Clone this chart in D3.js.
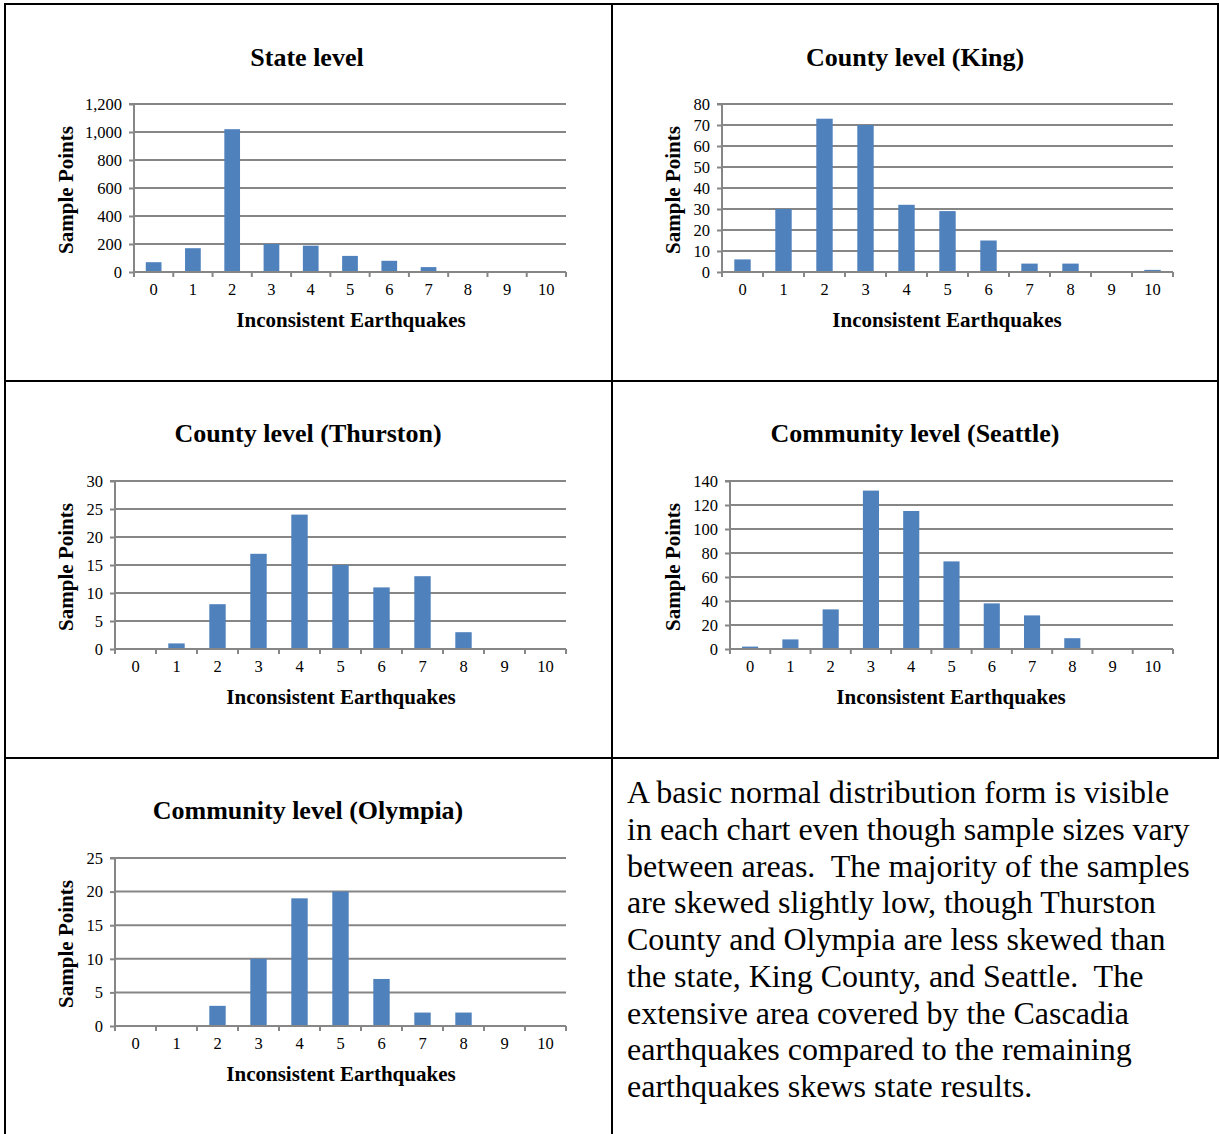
<!DOCTYPE html>
<html>
<head>
<meta charset="utf-8">
<script src="https://cdn.jsdelivr.net/npm/d3@7"></script>
<style>
  html, body { margin: 0; padding: 0; background: #fff; }
  svg { display: block; }
  text { font-family: "Liberation Serif", "Times New Roman", serif; fill: #000; }
</style>
</head>
<body>
<svg id="page" width="1219" height="1134"></svg>
<script>
// Category axis shared by every histogram: number of inconsistent earthquakes
const categories = ["0", "1", "2", "3", "4", "5", "6", "7", "8", "9", "10"];

// Sample point counts per area
const stateValues    = [70, 170, 1020, 200, 188, 115, 80, 35, 0, 0, 0];
const kingValues     = [6, 30, 73, 70, 32, 29, 15, 4, 4, 0, 1];
const thurstonValues = [0, 1, 8, 17, 24, 15, 11, 13, 3, 0, 0];
const seattleValues  = [2, 8, 33, 132, 115, 73, 38, 28, 9, 0, 0];
const olympiaValues  = [0, 0, 3, 10, 19, 20, 7, 2, 2, 0, 0];

// Value-axis tick labels for each chart
const stateTicks    = [0, 200, 400, 600, 800, 1000, 1200];
const kingTicks     = [0, 10, 20, 30, 40, 50, 60, 70, 80];
const thurstonTicks = [0, 5, 10, 15, 20, 25, 30];
const seattleTicks  = [0, 20, 40, 60, 80, 100, 120, 140];
const olympiaTicks  = [0, 5, 10, 15, 20, 25];

const chartTitles = ["State level", "County level (King)", "County level (Thurston)",
                     "Community level (Seattle)", "Community level (Olympia)"];
const xAxisTitle = "Inconsistent Earthquakes";
const yAxisTitle = "Sample Points";

const noteLines = [
  "A basic normal distribution form is visible",
  "in each chart even though sample sizes vary",
  "between areas.\u00a0 The majority of the samples",
  "are skewed slightly low, though Thurston",
  "County and Olympia are less skewed than",
  "the state, King County, and Seattle.\u00a0 The",
  "extensive area covered by the Cascadia",
  "earthquakes compared to the remaining",
  "earthquakes skews state results."
];

const svg = d3.select("#page");
const BAR = "#4F81BD";
const GRID = "#868686";
const SERIF = "'Liberation Serif', 'Times New Roman', serif";

// Table frame
const frame = svg.append("g").attr("stroke", "#000").attr("stroke-width", 2);
frame.append("line").attr("x1", 5).attr("x2", 5).attr("y1", 4).attr("y2", 1134);
frame.append("line").attr("x1", 1218).attr("x2", 1218).attr("y1", 4).attr("y2", 758);
frame.append("line").attr("x1", 4).attr("x2", 1219).attr("y1", 4).attr("y2", 4);
frame.append("line").attr("x1", 612).attr("x2", 612).attr("y1", 4).attr("y2", 1134);
frame.append("line").attr("x1", 4).attr("x2", 1219).attr("y1", 381).attr("y2", 381);
frame.append("line").attr("x1", 4).attr("x2", 1219).attr("y1", 758).attr("y2", 758);

// Layout of each chart cell
const panels = [
  { title: chartTitles[0], values: stateValues,    ticks: stateTicks,    fmt: d3.format(","),
    x0: 134, x1: 566, y0: 104, y1: 272, titleX: 307, titleY: 66,  yLabX: 73,  xLabX: 351 },
  { title: chartTitles[1], values: kingValues,     ticks: kingTicks,     fmt: d3.format("d"),
    x0: 722, x1: 1173, y0: 104, y1: 272, titleX: 915, titleY: 66,  yLabX: 680, xLabX: 947 },
  { title: chartTitles[2], values: thurstonValues, ticks: thurstonTicks, fmt: d3.format("d"),
    x0: 115, x1: 566, y0: 481, y1: 649, titleX: 308, titleY: 442, yLabX: 73,  xLabX: 341 },
  { title: chartTitles[3], values: seattleValues,  ticks: seattleTicks,  fmt: d3.format("d"),
    x0: 730, x1: 1173, y0: 481, y1: 649, titleX: 915, titleY: 442, yLabX: 680, xLabX: 951 },
  { title: chartTitles[4], values: olympiaValues,  ticks: olympiaTicks,  fmt: d3.format("d"),
    x0: 115, x1: 566, y0: 858, y1: 1026, titleX: 308, titleY: 819, yLabX: 73,  xLabX: 341 }
];

panels.forEach(p => {
  const g = svg.append("g");
  const x = d3.scaleBand().domain(categories).range([p.x0, p.x1]).paddingInner(0).paddingOuter(0);
  const y = d3.scaleLinear().domain([0, d3.max(p.ticks)]).range([p.y1, p.y0]);
  const barW = x.bandwidth() / 2.5;

  // Horizontal gridlines
  g.append("g").selectAll("line").data(p.ticks.filter(t => t > 0)).join("line")
    .attr("x1", p.x0).attr("x2", p.x1)
    .attr("y1", d => y(d)).attr("y2", d => y(d))
    .attr("stroke", GRID).attr("stroke-width", 2);

  // Bars
  g.append("g").selectAll("rect").data(p.values.map((v, i) => ({ c: categories[i], v }))).join("rect")
    .attr("x", d => x(d.c) + (x.bandwidth() - barW) / 2)
    .attr("width", barW)
    .attr("y", d => y(d.v))
    .attr("height", d => p.y1 - y(d.v))
    .attr("fill", BAR);

  // Value axis
  const yAxis = d3.axisLeft(y).tickValues(p.ticks).tickFormat(p.fmt).tickSize(5).tickPadding(7);
  const ya = g.append("g").attr("transform", `translate(${p.x0},0)`).call(yAxis)
    .style("font-family", SERIF);
  ya.select(".domain").attr("stroke", GRID).attr("stroke-width", 2).attr("d", `M-5,${p.y0}H0V${p.y1}`);
  ya.selectAll(".tick line").attr("stroke", GRID).attr("stroke-width", 2);
  ya.selectAll(".tick text").attr("font-size", 16.5).style("font-family", SERIF).attr("fill", "#000");

  // Category axis with tick marks between categories
  const boundaries = categories.map(c => x(c)).concat([p.x1]);
  const xa = g.append("g");
  xa.append("line").attr("x1", p.x0).attr("x2", p.x1).attr("y1", p.y1).attr("y2", p.y1)
    .attr("stroke", GRID).attr("stroke-width", 2);
  xa.selectAll("line.tk").data(boundaries).join("line").attr("class", "tk")
    .attr("x1", d => d).attr("x2", d => d).attr("y1", p.y1).attr("y2", p.y1 + 5)
    .attr("stroke", GRID).attr("stroke-width", 2);
  xa.selectAll("text").data(categories).join("text")
    .attr("x", d => x(d) + x.bandwidth() / 2).attr("y", p.y1 + 23)
    .attr("text-anchor", "middle").attr("font-size", 16.5).text(d => d);

  // Titles
  g.append("text").attr("x", p.titleX).attr("y", p.titleY).attr("text-anchor", "middle")
    .attr("font-size", 26).attr("font-weight", "bold").text(p.title);
  g.append("text").attr("x", p.xLabX).attr("y", p.y1 + 55).attr("text-anchor", "middle")
    .attr("font-size", 21).attr("font-weight", "bold").text(xAxisTitle);
  g.append("text").attr("transform", `translate(${p.yLabX},${(p.y0 + p.y1) / 2 + 2}) rotate(-90)`)
    .attr("text-anchor", "middle").attr("font-size", 21).attr("font-weight", "bold").text(yAxisTitle);
});

// Commentary in the last cell
svg.append("g").selectAll("text").data(noteLines).join("text")
  .attr("x", 627).attr("y", (d, i) => 803 + i * 36.75)
  .attr("font-size", 32).style("white-space", "pre").text(d => d);
</script>
</body>
</html>
